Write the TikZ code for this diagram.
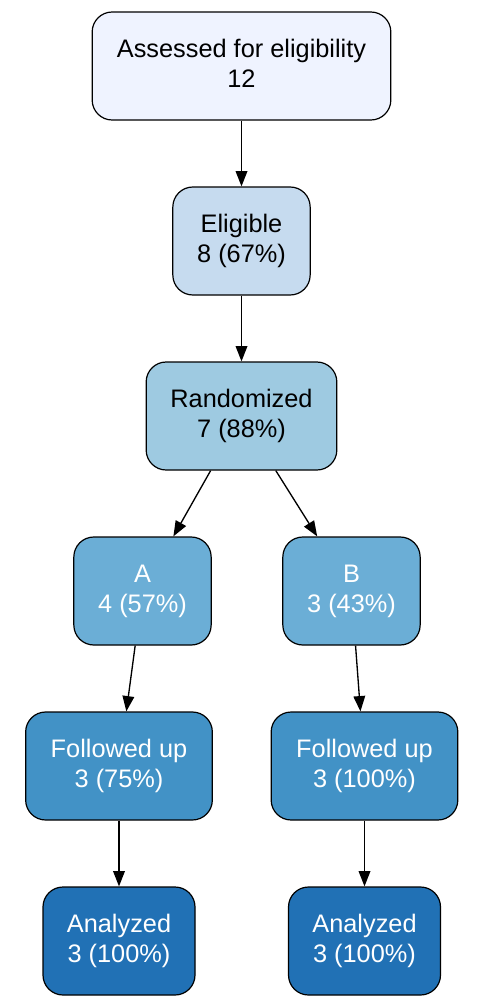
\documentclass[tikz,border=0pt]{standalone}
\usepackage{fontspec}
\setmainfont{Liberation Sans}
\usetikzlibrary{arrows.meta}
\definecolor{blueA}{HTML}{EFF3FF}
\definecolor{blueB}{HTML}{C6DBEF}
\definecolor{blueC}{HTML}{9ECAE1}
\definecolor{blueD}{HTML}{6BAED6}
\definecolor{blueE}{HTML}{4292C6}
\definecolor{blueF}{HTML}{2171B5}

\begin{document}
\begin{tikzpicture}[x=0.75pt,y=-0.75pt,
  box/.style={draw,line width=0.9pt,rounded corners=15pt,align=center,
    minimum height=81pt,inner sep=0pt,font=\fontsize{19}{22.5}\selectfont},
  edge/.style={-{Triangle[length=11.5pt,width=8.75pt]},line width=1pt}]
\useasboundingbox (0,0) rectangle (482,1007);
\node[box,fill=blueA,minimum width=224pt] (assessed) at (241.5,66) {Assessed for eligibility\\12\vphantom{g}};
\node[box,fill=blueB,minimum width=103pt] (eligible) at (241.5,241) {Eligible\\8 (67\%)};
\node[box,fill=blueC,minimum width=143pt] (random) at (241.5,416) {Randomized\\7 (88\%)};
\node[box,fill=blueD,text=white,minimum width=103pt] (armA) at (142.5,591) {A\\4 (57\%)};
\node[box,fill=blueD,text=white,minimum width=103pt] (armB) at (351.5,591) {B\\3 (43\%)};
\node[box,fill=blueE,text=white,minimum width=140pt] (followA) at (119,766) {Followed up\\3 (75\%)};
\node[box,fill=blueE,text=white,minimum width=140pt] (followB) at (364.5,766) {Followed up\\3 (100\%)};
\node[box,fill=blueF,text=white,minimum width=114pt] (analysedA) at (119,941) {Analyzed\\3 (100\%)};
\node[box,fill=blueF,text=white,minimum width=114pt] (analysedB) at (364.5,941) {Analyzed\\3 (100\%)};
% connectors
\draw[edge] (assessed) -- (eligible);
\draw[edge] (eligible) -- (random);
\draw[edge] (random) -- (armA);
\draw[edge] (random) -- (armB);
\draw[edge] (armA) -- (followA);
\draw[edge] (armB) -- (followB);
\draw[edge] (followA) -- (analysedA);
\draw[edge] (followB) -- (analysedB);
\end{tikzpicture}
\end{document}
